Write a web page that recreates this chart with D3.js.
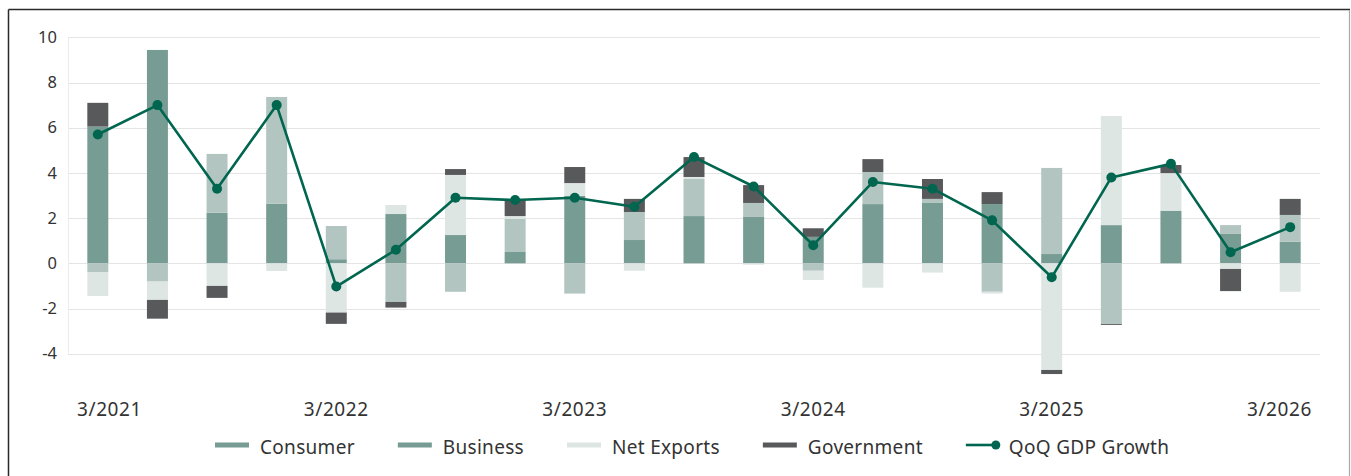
<!DOCTYPE html>
<html>
<head>
<meta charset="utf-8">
<script src="https://cdn.jsdelivr.net/npm/d3@7/dist/d3.min.js"></script>
<style>
  html, body { margin: 0; padding: 0; background: #ffffff; }
  svg { display: block; font-family: "Noto Sans", "Open Sans", sans-serif; }
</style>
</head>
<body>
<svg id="chart" width="1351" height="476"></svg>
<script>
// Quarter labels (end-of-quarter month / year)
const quarters = [
  "3/2021", "6/2021", "9/2021", "12/2021",
  "3/2022", "6/2022", "9/2022", "12/2022",
  "3/2023", "6/2023", "9/2023", "12/2023",
  "3/2024", "6/2024", "9/2024", "12/2024",
  "3/2025", "6/2025", "9/2025", "12/2025",
  "3/2026"
];

// Contributions to GDP growth, percentage points
const consumer   = [6.05, 9.44, 2.24, 2.64, 0.18, 2.18, 1.25, 0.50, 2.98, 1.03, 2.09, 2.05, 1.17, 2.62, 2.67, 2.62, 0.41, 1.69, 2.33, 1.30, 0.96];
const business   = [-0.40, -0.81, 2.60, 4.72, 1.47, -1.71, -1.26, 1.46, -1.34, 1.24, 1.64, 0.62, -0.33, 1.42, 0.18, -1.26, 3.81, -2.69, 0.00, 0.39, 1.18];
const netExports = [-1.05, -0.81, -1.00, -0.34, -2.18, 0.40, 2.66, 0.13, 0.57, -0.33, 0.09, -0.06, -0.41, -1.08, -0.41, -0.08, -4.72, 4.83, 1.66, -0.25, -1.26];
const government = [1.05, -0.83, -0.53, 0.00, -0.50, -0.25, 0.26, 0.70, 0.71, 0.58, 0.88, 0.79, 0.38, 0.57, 0.88, 0.53, -0.18, -0.04, 0.36, -0.98, 0.71];

// Quarter-over-quarter GDP growth (annualised, %)
const gdpGrowth  = [5.7, 7.0, 3.3, 7.0, -1.03, 0.6, 2.9, 2.8, 2.9, 2.5, 4.7, 3.4, 0.8, 3.6, 3.3, 1.9, -0.62, 3.8, 4.4, 0.49, 1.6];

const seriesNames = ["Consumer", "Business", "Net Exports", "Government"];
const lineName = "QoQ GDP Growth";
const yTicks = [-4, -2, 0, 2, 4, 6, 8, 10];
const xTickLabels = ["3/2021", "3/2022", "3/2023", "3/2024", "3/2025", "3/2026"];

const barColors    = ["#779c93", "#b3c5c0", "#dde6e3", "#58595b"];
const legendColors = ["#779c93", "#779c93", "#dde6e3", "#58595b"];
const lineColor = "#00664f";

const rows = quarters.map((q, i) => ({
  quarter: q,
  "Consumer": consumer[i],
  "Business": business[i],
  "Net Exports": netExports[i],
  "Government": government[i]
}));

const svg = d3.select("#chart");
const W = 1351, H = 476;
const plot = { left: 68, right: 1320, top: 37.3, bottom: 353.7 };

// Outer frame
svg.append("line").attr("x1", 8.5).attr("x2", 1350).attr("y1", 9.5).attr("y2", 9.5)
  .attr("stroke", "#2a2a2a").attr("stroke-width", 1.5);
svg.append("line").attr("x1", 8.5).attr("x2", 8.5).attr("y1", 9.5).attr("y2", H)
  .attr("stroke", "#2a2a2a").attr("stroke-width", 1.5);
svg.append("line").attr("x1", 1349.5).attr("x2", 1349.5).attr("y1", 10).attr("y2", H)
  .attr("stroke", "#a8a8a8").attr("stroke-width", 1.2);

const x = d3.scaleBand()
  .domain(quarters)
  .range([plot.left, plot.right])
  .paddingInner(0.648)
  .paddingOuter(0.324);

const y = d3.scaleLinear().domain([-4, 10]).range([plot.bottom, plot.top]);

// Horizontal gridlines
svg.append("g").selectAll("line").data(yTicks).join("line")
  .attr("x1", plot.left).attr("x2", plot.right)
  .attr("y1", d => Math.round(y(d)) + 0.5).attr("y2", d => Math.round(y(d)) + 0.5)
  .attr("stroke", "#e4e4e4").attr("stroke-width", 1.2);

// Left edge of plot
svg.append("line")
  .attr("x1", plot.left + 0.5).attr("x2", plot.left + 0.5)
  .attr("y1", y(10)).attr("y2", y(-4))
  .attr("stroke", "#ececec").attr("stroke-width", 1);

// Y axis labels
const yAxis = d3.axisLeft(y).tickValues(yTicks).tickSize(0).tickPadding(11)
  .tickFormat(d => d < 0 ? "-" + Math.abs(d) : String(d));
const yG = svg.append("g").attr("transform", `translate(${plot.left},0)`).call(yAxis);
yG.select(".domain").remove();
yG.selectAll("text").attr("font-size", 16.5).attr("fill", "#333")
  .attr("font-family", "'Noto Sans', sans-serif");

// Stacked bars (positives stacked up, negatives stacked down)
const stack = d3.stack().keys(seriesNames).offset(d3.stackOffsetDiverging);
const layers = stack(rows);

svg.append("g").selectAll("g").data(layers).join("g")
  .attr("fill", (d, i) => barColors[i])
  .selectAll("rect").data(d => d).join("rect")
  .attr("x", d => x(d.data.quarter))
  .attr("width", x.bandwidth())
  .attr("y", d => y(Math.max(d[0], d[1])))
  .attr("height", d => Math.abs(y(d[0]) - y(d[1])));

// X axis labels: one per year, kept inside the plot area
const xLabels = svg.append("g").selectAll("text").data(xTickLabels).join("text")
  .attr("y", 416)
  .attr("text-anchor", "middle")
  .attr("font-size", 19)
  .attr("letter-spacing", 0.6)
  .attr("fill", "#333")
  .text(d => d);
xLabels.each(function(d) {
  const w = this.getComputedTextLength();
  let c = x(d) + x.bandwidth() / 2;
  c = Math.max(plot.left + 9 + w / 2, Math.min(plot.right - 8 - w / 2, c));
  d3.select(this).attr("x", c);
});

// GDP growth line with markers
const cx = q => x(q) + x.bandwidth() / 2;
const line = d3.line().x((d, i) => cx(quarters[i])).y(d => y(d));
svg.append("path").datum(gdpGrowth)
  .attr("d", line).attr("fill", "none")
  .attr("stroke", lineColor).attr("stroke-width", 2.6)
  .attr("stroke-linejoin", "round");
svg.append("g").selectAll("circle").data(gdpGrowth).join("circle")
  .attr("cx", (d, i) => cx(quarters[i])).attr("cy", d => y(d))
  .attr("r", 5).attr("fill", lineColor);

// Legend
const legend = svg.append("g");
const legY = 447;
const legFont = 19, legSpacing = 0.3;
let lx = 215;
seriesNames.forEach((name, i) => {
  legend.append("rect").attr("x", lx).attr("y", legY - 4.5).attr("width", 34).attr("height", 5)
    .attr("fill", legendColors[i]);
  const t = legend.append("text").attr("x", lx + 45).attr("y", legY + 6.5)
    .attr("font-size", legFont).attr("letter-spacing", legSpacing)
    .attr("fill", "#333").text(name);
  lx += 45 + t.node().getComputedTextLength() + 43;
});
legend.append("line").attr("x1", lx).attr("x2", lx + 30).attr("y1", legY - 2).attr("y2", legY - 2)
  .attr("stroke", lineColor).attr("stroke-width", 2.6);
legend.append("circle").attr("cx", lx + 30).attr("cy", legY - 2).attr("r", 4.5).attr("fill", lineColor);
legend.append("text").attr("x", lx + 43).attr("y", legY + 6.5)
  .attr("font-size", legFont).attr("letter-spacing", legSpacing)
  .attr("fill", "#333").text(lineName);
</script>
</body>
</html>
